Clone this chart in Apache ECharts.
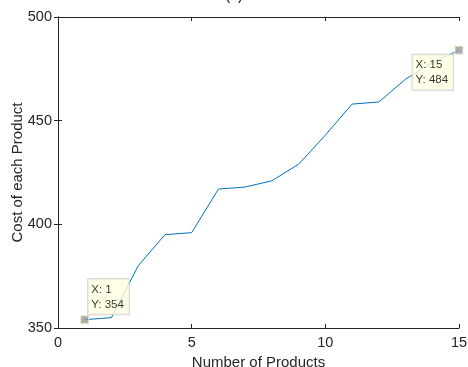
<!DOCTYPE html>
<html><head><meta charset="utf-8">
<script src="https://cdn.jsdelivr.net/npm/echarts@6/dist/echarts.min.js"></script>
<style>html,body{margin:0;padding:0;background:#fff}#c{width:468px;height:367px}</style>
</head><body><div id="c"></div>
<script>
const xValues = [1,2,3,4,5,6,7,8,9,10,11,12,13,14,15];
const costValues = [354,355,380,395,396,417,418,421,429,443,458,459,470,478,484];
const xTicks = [0,5,10,15];
const yTicks = [350,400,450,500];
const tipPoints = [[1,354],[15,484]];

const chart = echarts.init(document.getElementById('c'));
const font = 'Liberation Sans, Arial, sans-serif';
const axCommon = {
  axisLine:{show:true,lineStyle:{color:'#262626',width:1}},
  axisTick:{show:true,inside:true,length:4,lineStyle:{color:'#262626'}},
  splitLine:{show:false}
};
const tipStyle = {
  show:true, fontFamily:font, fontSize:11.5, color:'#000', lineHeight:15,
  backgroundColor:'#ffffe1', borderColor:'#c8c8c8', borderWidth:1,
  padding:[3,5,2,3], align:'left', verticalAlign:'top'
};
chart.setOption({
  animation:false,
  title:{text:'(a)',left:'center',top:-16,textStyle:{fontFamily:font,fontSize:14,fontWeight:'normal',color:'#000'}},
  grid:{left:58,right:9,top:17,bottom:39,containLabel:false,outerBoundsMode:'none'},
  xAxis:[
    Object.assign({type:'value',min:0,max:15,interval:5,position:'bottom',
      name:'Number of Products',nameLocation:'middle',nameGap:25,
      nameTextStyle:{fontFamily:font,fontSize:15,color:'#262626'},
      axisLabel:{fontFamily:font,fontSize:14.5,color:'#262626',margin:7}},axCommon),
    Object.assign({type:'value',min:0,max:15,interval:5,position:'top',axisLabel:{show:false}},axCommon)
  ],
  yAxis:[
    Object.assign({type:'value',min:350,max:500,interval:50,position:'left',
      name:'Cost of each Product',nameLocation:'middle',nameGap:33,nameMoveOverlap:false,
      nameTextStyle:{fontFamily:font,fontSize:15,color:'#262626'},
      axisLabel:{fontFamily:font,fontSize:14.5,color:'#262626',margin:6}},axCommon),
    Object.assign({type:'value',min:350,max:500,interval:50,position:'right',axisLabel:{show:false}},axCommon)
  ],
  series:[
    {type:'line',data:xValues.map((x,i)=>[x,costValues[i]]),showSymbol:false,
     lineStyle:{color:'#0072BD',width:1},itemStyle:{color:'#0072BD'},z:2},
    {type:'scatter',symbol:'rect',symbolSize:8,z:5,
     itemStyle:{color:'#9a9a9a',borderColor:'#f0f0c8',borderWidth:1},
     data:[
       {value:tipPoints[0],label:Object.assign({},tipStyle,{position:[8,-36],formatter:'X: '+tipPoints[0][0]+'\nY: '+tipPoints[0][1]})},
       {value:tipPoints[1],label:Object.assign({},tipStyle,{position:[-42,9],formatter:'X: '+tipPoints[1][0]+'\nY: '+tipPoints[1][1]})}
     ]}
  ]
});
</script></body></html>
